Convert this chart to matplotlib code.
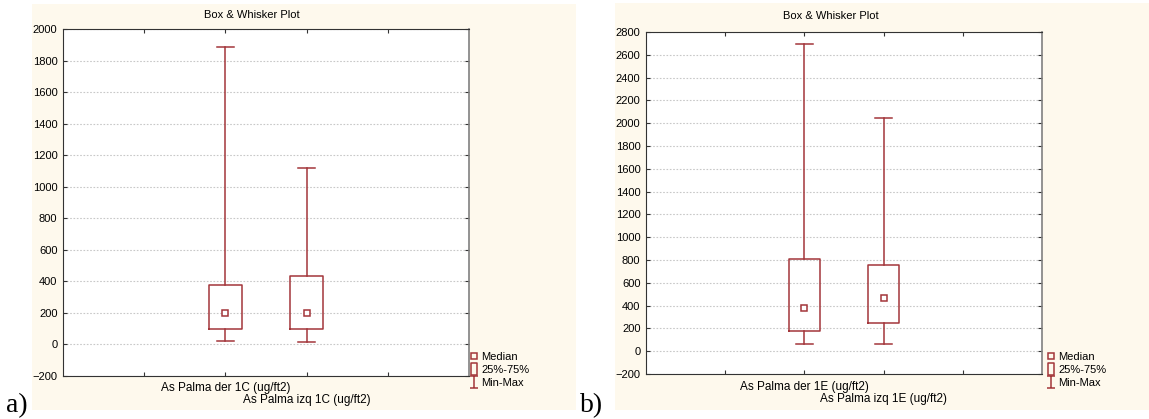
import numpy as np
import matplotlib.pyplot as plt
from matplotlib.patches import Rectangle
from matplotlib.lines import Line2D
from matplotlib.path import Path

plt.rcParams['font.family'] = ['Liberation Sans', 'DejaVu Sans']

# panel a
names_a = ["As Palma der 1C (ug/ft2)", "As Palma izq 1C (ug/ft2)"]
min_a = [25, 18]
q1_a = [95, 99]
med_a = [197, 197]
q3_a = [375, 432]
max_a = [1884, 1118]

# panel b
names_b = ["As Palma der 1E (ug/ft2)", "As Palma izq 1E (ug/ft2)"]
min_b = [63, 63]
q1_b = [181, 247]
med_b = [379, 467]
q3_b = [812, 760]
max_b = [2695, 2046]

legend_labels = ["Median", "25%-75%", "Min-Max"]

red = '#a3363a'
cream = '#fef9ed'
W, H = 1149, 419

fig = plt.figure(figsize=(W / 100, H / 100), dpi=100)

def px_rect(x0, y0, x1, y1):
    # figure-fraction rect from pixel corners (top-left origin)
    return [x0 / W, 1 - y1 / H, (x1 - x0) / W, (y1 - y0) / H]

rect_marker = Path([(-0.55, -1), (0.55, -1), (0.55, 1), (-0.55, 1), (-0.55, -1)],
                   [Path.MOVETO, Path.LINETO, Path.LINETO, Path.LINETO, Path.CLOSEPOLY])
ibeam_marker = Path([(-0.6, 1), (0.6, 1), (0, 1), (0, -1), (-0.6, -1), (0.6, -1)],
                    [Path.MOVETO, Path.LINETO, Path.MOVETO, Path.LINETO, Path.MOVETO, Path.LINETO])


def panel(bg, axbox, names, mins, q1s, meds, q3s, maxs, ymin, ymax, title_xy,
          lab_xy, leg_xy, letter, letter_xy):
    x0, y0, x1, y1 = bg
    fig.patches.append(Rectangle((x0 / W, 1 - y1 / H), (x1 - x0) / W, (y1 - y0) / H,
                                 transform=fig.transFigure, facecolor=cream,
                                 edgecolor='none', zorder=-5))
    ax = fig.add_axes(px_rect(*axbox))
    ax.set_facecolor('white')
    stats = []
    for n, lo, a, m, b, hi in zip(names, mins, q1s, meds, q3s, maxs):
        stats.append(dict(label=n, whislo=lo, q1=a, med=m, q3=b, whishi=hi, fliers=[]))
    pos = [2, 3]
    lp = dict(color=red, linewidth=1.1)
    ax.bxp(stats, positions=pos, widths=0.4, capwidths=0.21, showfliers=False,
           boxprops=lp, whiskerprops=lp, capprops=lp,
           medianprops=dict(linestyle='none'))
    ax.plot(pos, meds, linestyle='none', marker='s', markersize=4.2,
            markerfacecolor='white', markeredgecolor=red, markeredgewidth=1.1)
    ax.set_xlim(0, 5)
    ax.set_ylim(ymin, ymax)
    ax.set_xticks([1, 2, 3, 4])
    ax.set_xticklabels([])
    ax.set_yticks(np.arange(ymin, ymax + 1, 200))
    ax.tick_params(axis='both', direction='in', length=3, width=0.8, colors='#333333',
                   labelsize=8, top=True, right=True)
    ax.tick_params(axis='y', labelcolor='black', pad=4)
    ax.yaxis.grid(True, linestyle=(0, (1.5, 1.5)), color='#c8c8c8', linewidth=0.8)
    ax.set_axisbelow(True)
    for s in ['left', 'top', 'bottom']:
        ax.spines[s].set_color('#333333')
    ax.spines['right'].set_color('#808080')
    ax.spines['right'].set_linewidth(1.2)
    fig.text(title_xy[0] / W, 1 - title_xy[1] / H, "Box & Whisker Plot",
             ha='center', va='center', fontsize=8)
    for (lx, ly), n in zip(lab_xy, names):
        fig.text(lx / W, 1 - ly / H, n, ha='center', va='center', fontsize=8.5)
    handles = [
        Line2D([], [], linestyle='none', marker='s', markersize=4, markerfacecolor='none',
               markeredgecolor=red, markeredgewidth=1.1),
        Line2D([], [], linestyle='none', marker=rect_marker, markersize=8.5,
               markerfacecolor='none', markeredgecolor=red, markeredgewidth=1.1),
        Line2D([], [], linestyle='none', marker=ibeam_marker, markersize=8.5,
               markerfacecolor='none', markeredgecolor=red, markeredgewidth=1.1),
    ]
    fig.legend(handles, legend_labels, loc='upper left',
               bbox_to_anchor=(leg_xy[0] / W, 1 - leg_xy[1] / H), frameon=False,
               fontsize=8, handlelength=0.6, handletextpad=0.35, labelspacing=0.28,
               borderpad=0, borderaxespad=0)
    fig.text(letter_xy[0] / W, 1 - letter_xy[1] / H, letter, ha='left', va='baseline',
             fontsize=20, family=['Liberation Serif', 'DejaVu Serif'])
    return ax


panel((32, 4, 576, 410), (63, 29, 469, 376), names_a, min_a, q1_a, med_a, q3_a, max_a,
      -200, 2000, (252, 15), [(226, 388), (307, 400)], (471, 352), "a)", (6, 412))
panel((615, 3, 1149, 410), (646, 32, 1042, 374), names_b, min_b, q1_b, med_b, q3_b, max_b,
      -200, 2800, (831, 16), [(804, 387), (883, 399)], (1048, 352), "b)", (580, 412))

fig.savefig('out.png', dpi=100, facecolor='white')
